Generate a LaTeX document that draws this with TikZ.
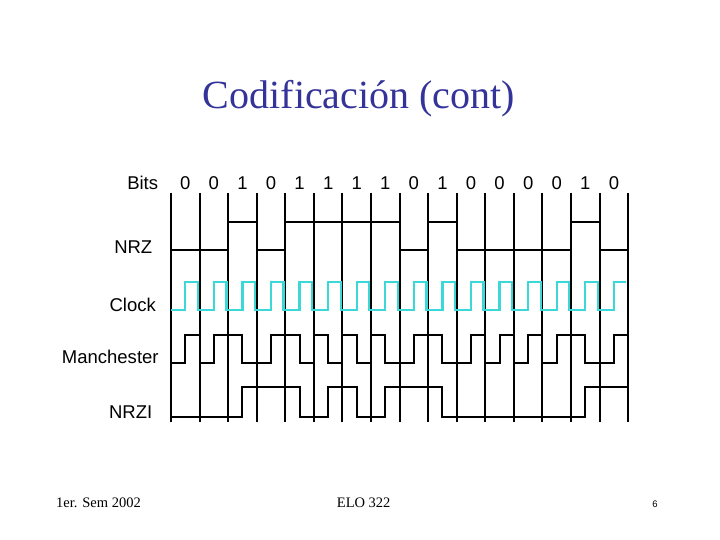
\documentclass[tikz,border=0pt]{standalone}
\usepackage{fontspec}
\setmainfont{Liberation Serif}
\setsansfont{Liberation Sans}
\usepackage{tikz}
\definecolor{titleblue}{RGB}{51,51,153}
\definecolor{clockcyan}{RGB}{60,215,215}
\begin{document}
\begin{tikzpicture}[x=1pt,y=-1pt,
  lbl/.style={anchor=base east,inner sep=0pt,font=\sffamily\fontsize{18.5}{20}\selectfont},
  bitlbl/.style={anchor=base,inner sep=0pt,font=\sffamily\fontsize{18.5}{20}\selectfont},
  foot/.style={anchor=base,inner sep=0pt,font=\fontsize{14.5}{16}\selectfont},
  wave/.style={black,line width=2pt},
  clk/.style={clockcyan,line width=2.3pt}]
\useasboundingbox (0,0) rectangle (720,540);
\node[anchor=base,inner sep=0pt,text=titleblue,font=\fontsize{40}{42}\selectfont] (title) at (359,108.3) {Codificación (cont)};
% row labels
\node[lbl] (bits) at (158.3,189.3) {Bits};
\node[lbl] (nrz) at (152.5,253.3) {NRZ};
\node[lbl] (clock) at (156,311.7) {Clock};
\node[lbl] (manch) at (158.8,363.3) {Manchester};
\node[lbl] (nrzi) at (152.5,418.3) {NRZI};
\begin{scope}[shift={(171pt,0pt)},x=28.575pt]
\foreach \b [count=\k from 0] in {0,0,1,0,1,1,1,1,0,1,0,0,0,0,1,0}{
\node[bitlbl] (bit\k) at (\k+0.5,189.3) {\b};
}
\foreach \k in {0,...,16}{
\draw [wave] (\k,193) -- (\k,422);
}
% NRZ
\draw [wave] (0,250) -- (2,250) -- (2,222.3) -- (3,222.3) -- (3,250) -- (4,250) -- (4,222.3) -- (8,222.3) -- (8,250) -- (9,250) -- (9,222.3) -- (10,222.3) -- (10,250) -- (14,250) -- (14,222.3) -- (15,222.3) -- (15,250) -- (16,250);
% clock
\draw [clk] (0,310) \foreach \k in {0,...,14}{ -- (\k+0.5,310) -- (\k+0.5,281.7) -- (\k+0.94,281.7) -- (\k+0.94,310) } -- (15.5,310) -- (15.5,281.7) -- (15.94,281.7);
% Manchester
\draw [wave] (0,362.7) -- (0.5,362.7) -- (0.5,335) -- (1,335) -- (1,362.7) -- (1.5,362.7) -- (1.5,335) -- (2.5,335) -- (2.5,362.7) -- (3.5,362.7) -- (3.5,335) -- (4.5,335) -- (4.5,362.7) -- (5,362.7) -- (5,335) -- (5.5,335) -- (5.5,362.7) -- (6,362.7) -- (6,335) -- (6.5,335) -- (6.5,362.7) -- (7,362.7) -- (7,335) -- (7.5,335) -- (7.5,362.7) -- (8.5,362.7) -- (8.5,335) -- (9.5,335) -- (9.5,362.7) -- (10.5,362.7) -- (10.5,335) -- (11,335) -- (11,362.7) -- (11.5,362.7) -- (11.5,335) -- (12,335) -- (12,362.7) -- (12.5,362.7) -- (12.5,335) -- (13,335) -- (13,362.7) -- (13.5,362.7) -- (13.5,335) -- (14.5,335) -- (14.5,362.7) -- (15.5,362.7) -- (15.5,335) -- (16,335);
% NRZI
\draw [wave] (0,416.7) -- (2.5,416.7) -- (2.5,387.3) -- (4.5,387.3) -- (4.5,416.7) -- (5.5,416.7) -- (5.5,387.3) -- (6.5,387.3) -- (6.5,416.7) -- (7.5,416.7) -- (7.5,387.3) -- (9.5,387.3) -- (9.5,416.7) -- (14.5,416.7) -- (14.5,387.3) -- (16,387.3);
\end{scope}
% footer
\node[foot] (sem) at (98.5,507.7) {1er. Sem 2002};
\node[foot] (course) at (363.7,507.7) {ELO 322};
\node[anchor=base,inner sep=0pt,font=\sffamily\fontsize{9.5}{11}\selectfont] (page) at (655,507.5) {6};
\end{tikzpicture}
\end{document}
